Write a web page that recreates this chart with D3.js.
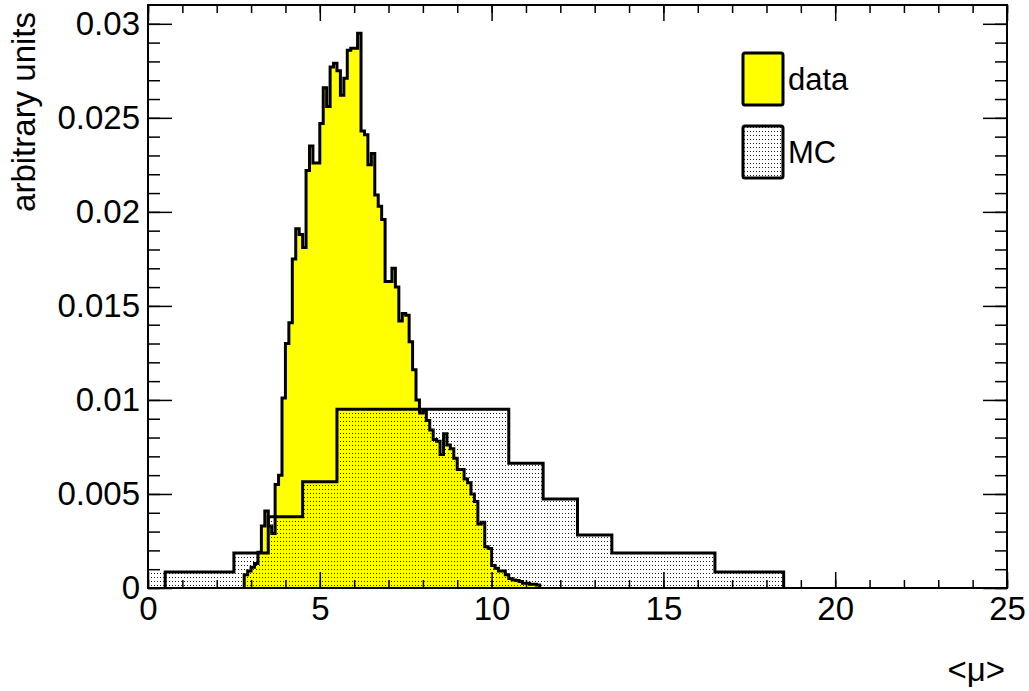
<!DOCTYPE html>
<html>
<head>
<meta charset="utf-8">
<script src="https://cdn.jsdelivr.net/npm/d3@7"></script>
<style>
  body { margin: 0; background: white; }
  text { font-family: "Liberation Sans", Arial, sans-serif; fill: black; }
</style>
</head>
<body>
<script>
// data histogram: 0.1 wide bins starting at 2.8
var dataStart = 2.8,
    dataWidth = 0.1;
var dataValues = [
  0.0007, 0.0009, 0.0011, 0.0013, 0.0019, 0.0033, 0.0041, 0.0033, 0.0029, 0.0055,
  0.0060, 0.0101, 0.0130, 0.0141, 0.0175, 0.0191, 0.0188, 0.0181, 0.0222, 0.0235,
  0.0226, 0.0226, 0.0247, 0.0266, 0.0256, 0.0277, 0.0279, 0.0275, 0.0262, 0.0271,
  0.0286, 0.0287, 0.0287, 0.0295, 0.0243, 0.0241, 0.0225, 0.0231, 0.0209, 0.0203,
  0.0196, 0.0163, 0.0163, 0.0170, 0.0160, 0.0142, 0.0146, 0.0145, 0.0131, 0.0116,
  0.0100, 0.0093, 0.0094, 0.0089, 0.0084, 0.0079, 0.0078, 0.0071, 0.0082, 0.0076,
  0.0074, 0.0069, 0.0063, 0.0063, 0.0058, 0.0056, 0.0050, 0.0046, 0.0034, 0.0035,
  0.0022, 0.0021, 0.0012, 0.00105, 0.0009, 0.0009, 0.0007, 0.0005, 0.00043, 0.0004,
  0.00034, 0.00025, 0.00025, 0.0002, 0.0002, 0.00016
];

// MC histogram: unit bins
var mcEdges = [-0.5, 0.5, 1.5, 2.5, 3.5, 4.5, 5.5, 6.5, 7.5, 8.5, 9.5, 10.5,
               11.5, 12.5, 13.5, 14.5, 15.5, 16.5, 17.5, 18.5];
var mcValues = [0.00085, 0.00085, 0.00085, 0.00186, 0.00379, 0.00565, 0.0095, 0.0095,
                0.0095, 0.0095, 0.0095, 0.00663, 0.00473, 0.00282, 0.00186, 0.00186,
                0.00186, 0.00085, 0.00085];

var xMajor = [0, 5, 10, 15, 20, 25];
var yMajor = [0, 0.005, 0.01, 0.015, 0.02, 0.025, 0.03];
var xMinor = d3.range(0, 25.001, 1);
var yMinor = d3.range(0, 0.0305, 0.001);

var legendItems = ["data", "MC"];

var width = 1029,
    height = 691;

var x = d3.scaleLinear().domain([0, 25]).range([148, 1007]);
var y = d3.scaleLinear().domain([0, 0.031]).range([588, 5]);

var svg = d3.select("body").append("svg")
    .attr("width", width)
    .attr("height", height);

var defs = svg.append("defs");
defs.append("clipPath").attr("id", "frameclip")
  .append("rect")
  .attr("x", x(0)).attr("y", y(0.031))
  .attr("width", x(25) - x(0)).attr("height", y(0) - y(0.031));

var pat = defs.append("pattern")
  .attr("id", "dots")
  .attr("patternUnits", "userSpaceOnUse")
  .attr("width", 3).attr("height", 4);
pat.append("rect").attr("x", 1).attr("y", 1).attr("width", 1).attr("height", 1).attr("fill", "#222");

function stepPoints(edges, vals) {
  var pts = [[edges[0], 0]];
  vals.forEach(function(v, i) {
    pts.push([edges[i], v]);
    pts.push([edges[i + 1], v]);
  });
  pts.push([edges[edges.length - 1], 0]);
  return pts;
}

var line = d3.line()
  .x(function(d) { return x(d[0]); })
  .y(function(d) { return y(d[1]); });

var dataEdges = d3.range(dataValues.length + 1).map(function(i) {
  return +(dataStart + i * dataWidth).toFixed(2);
});

var g = svg.append("g").attr("clip-path", "url(#frameclip)");

// data
g.append("path")
  .attr("d", line(stepPoints(dataEdges, dataValues)) + "Z")
  .attr("fill", "#ffff00")
  .attr("stroke", "none");
g.append("path")
  .attr("d", line(stepPoints(dataEdges, dataValues)))
  .attr("fill", "none")
  .attr("stroke", "black")
  .attr("stroke-width", 3)
  .attr("stroke-linejoin", "miter");

// MC
g.append("path")
  .attr("d", line(stepPoints(mcEdges, mcValues)) + "Z")
  .attr("fill", "url(#dots)")
  .attr("stroke", "none");
g.append("path")
  .attr("d", line(stepPoints(mcEdges.slice(1), mcValues.slice(1))))
  .attr("fill", "none")
  .attr("stroke", "black")
  .attr("stroke-width", 3);

// axes
function styleAxis(sel) {
  sel.select(".domain").remove();
  sel.selectAll("line").attr("stroke", "black").attr("stroke-width", 1.5);
  sel.selectAll("text").style("font-size", "33px").attr("fill", "black");
}

svg.append("g").attr("transform", "translate(0," + y(0) + ")")
  .call(d3.axisBottom(x).tickValues(xMinor).tickSize(-8).tickFormat(""))
  .call(styleAxis);
svg.append("g").attr("transform", "translate(0," + y(0) + ")")
  .call(d3.axisBottom(x).tickValues(xMajor).tickSize(-16).tickPadding(9).tickFormat(d3.format("d")))
  .call(styleAxis);
svg.append("g").attr("transform", "translate(0," + y(0.031) + ")")
  .call(d3.axisTop(x).tickValues(xMinor).tickSize(-8).tickFormat(""))
  .call(styleAxis);
svg.append("g").attr("transform", "translate(0," + y(0.031) + ")")
  .call(d3.axisTop(x).tickValues(xMajor).tickSize(-16).tickFormat(""))
  .call(styleAxis);

svg.append("g").attr("transform", "translate(" + x(0) + ",0)")
  .call(d3.axisLeft(y).tickValues(yMinor).tickSize(-12).tickFormat(""))
  .call(styleAxis);
svg.append("g").attr("transform", "translate(" + x(0) + ",0)")
  .call(d3.axisLeft(y).tickValues(yMajor).tickSize(-24).tickPadding(8)
    .tickFormat(function(d) { return d === 0 ? "0" : d3.format("")(+d.toFixed(3)); }))
  .call(styleAxis);
svg.append("g").attr("transform", "translate(" + x(25) + ",0)")
  .call(d3.axisRight(y).tickValues(yMinor).tickSize(-12).tickFormat(""))
  .call(styleAxis);
svg.append("g").attr("transform", "translate(" + x(25) + ",0)")
  .call(d3.axisRight(y).tickValues(yMajor).tickSize(-24).tickFormat(""))
  .call(styleAxis);

// frame
svg.append("rect")
  .attr("x", x(0)).attr("y", y(0.031))
  .attr("width", x(25) - x(0)).attr("height", y(0) - y(0.031))
  .attr("fill", "none")
  .attr("stroke", "black")
  .attr("stroke-width", 2);

// titles
svg.append("text")
  .attr("x", x(25) - 2).attr("y", 681)
  .attr("text-anchor", "end")
  .style("font-size", "33px")
  .text("<μ>");
svg.append("text")
  .attr("transform", "translate(35,12) rotate(-90)")
  .attr("text-anchor", "end")
  .style("font-size", "33px")
  .text("arbitrary units");

// legend
var leg = svg.append("g").selectAll("g")
  .data(legendItems)
  .enter().append("g")
  .attr("transform", function(d, i) { return "translate(743," + (53 + i * 73) + ")"; });
leg.append("rect")
  .attr("width", 40).attr("height", 52)
  .attr("rx", 2)
  .attr("fill", function(d, i) { return i === 0 ? "#ffff00" : "url(#dots)"; })
  .attr("stroke", "black")
  .attr("stroke-width", 3);
leg.append("text")
  .attr("x", 45).attr("y", 37)
  .style("font-size", "31px")
  .text(function(d) { return d; });
</script>
</body>
</html>
